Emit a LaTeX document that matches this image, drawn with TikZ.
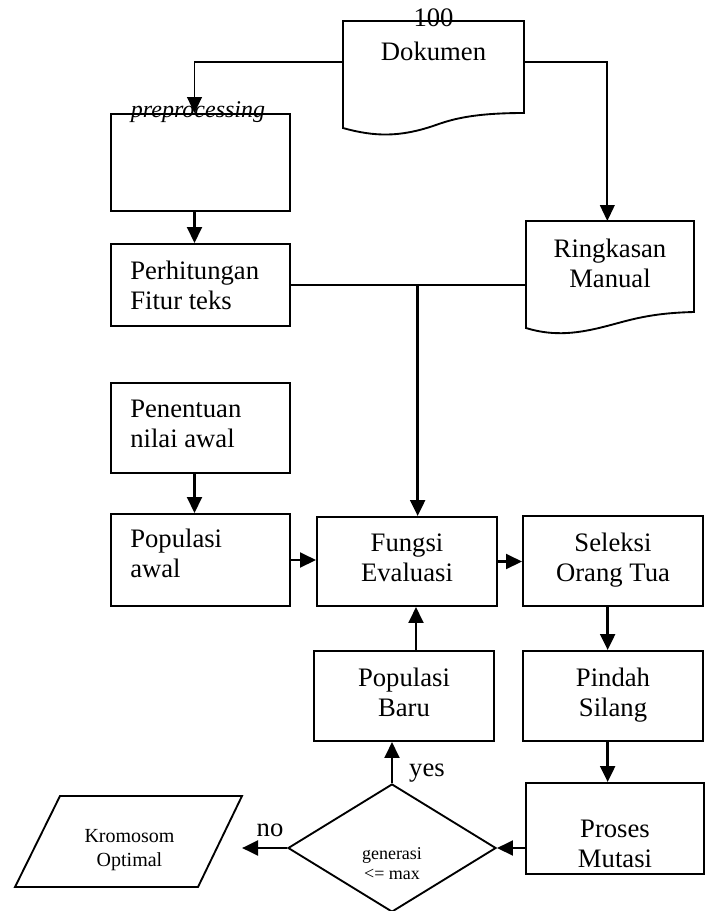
\documentclass[tikz,border=0pt]{standalone}
\usepackage{fontspec}
\setmainfont{Liberation Serif}
\usetikzlibrary{arrows.meta}
\usetikzlibrary{shapes.geometric}

\begin{document}
\begin{tikzpicture}[x=0.75pt,y=0.75pt,yscale=-1,xscale=1,
  box/.style={draw, line width=1.4pt, rectangle, inner sep=0pt, minimum width=135pt, minimum height=67.5pt},
  hidbox/.style={rectangle, inner sep=0pt, outer sep=0pt},
  txt/.style={font=\fontsize{20}{22.5}\selectfont, align=center, inner sep=0pt},
  txtl/.style={txt, align=left, anchor=west},
  smalltxt/.style={font=\fontsize{15}{18}\selectfont, align=center, inner sep=0pt},
  tinytxt/.style={font=\fontsize{13.5}{15}\selectfont, align=center, inner sep=0pt},
  thinln/.style={line width=1.4pt},
  arrthin/.style={line width=1.4pt, -{Triangle[length=12pt,width=11pt]}},
  arr/.style={line width=2.2pt, -{Triangle[length=12pt,width=11pt]}}
]
\useasboundingbox (0,0) rectangle (711,911);

%Shape: Document [Dokumen]
\node[hidbox, minimum width=135.75pt, minimum height=69pt] (dok) at (433.5,67) {};
\draw[thinln] (343,128) -- (dok.north west) -- (dok.north east) -- (dok.south east) .. controls (470,113) and (450,120) .. (433,126) .. controls (400,137) and (375,137) .. (343,128) -- cycle ;
% Text Node
\node[txt] (dokno) at (433.5,18) {100};
% Text Node
\node[txt] (doktxt) at (433.5,51) {Dokumen};

%Shape: Document [Ringkasan]
\node[hidbox, minimum width=126pt, minimum height=68.25pt] (rng) at (610,266.5) {};
\draw[thinln] (526,328) -- (rng.north west) -- (rng.north east) -- (rng.south east) .. controls (650,313) and (630,320) .. (607,326) .. controls (580,333) and (555,337) .. (526,328) -- cycle ;
% Text Node
\node[txt] (rngtxt) at (610,263.5) {Ringkasan\\Manual};

%Shape: Rectangle
\node[box, minimum width=134.25pt, minimum height=72.75pt] (pre) at (200.5,162.5) {};
\node[box, minimum width=134.25pt, minimum height=61.5pt] (per) at (200.5,285) {};
\node[box, minimum width=134.25pt] (pen) at (200.5,428) {};
\node[box, minimum width=134.25pt, minimum height=69pt] (popa) at (200.5,560) {};
\node[box, minimum height=66.75pt] (fun) at (407,561.5) {};
\node[box] (sel) at (613,561) {};
\node[box] (pin) at (613,696) {};
\node[box] (bar) at (404,696) {};
\node[box, minimum width=133.5pt, minimum height=68.25pt] (mut) at (615,828.5) {};

%Shape: Diamond
\node[diamond, draw, line width=1.4pt, inner sep=0pt, minimum width=156pt, minimum height=96pt] (dia) at (392,848) {};

%Shape: Parallelogram
\draw[thinln] (60,796) -- (242,796) -- (198,887) -- (15,887) -- cycle ;

% Text Node
\node[font=\fontsize{18}{20}\selectfont\itshape, inner sep=0pt] (pretxt) at (198,112) {preprocessing};
\node[txtl] (pertxt) at (130,285.5) {Perhitungan\\Fitur teks};
\node[txtl] (pentxt) at (130,423.5) {Penentuan\\nilai awal};
\node[txtl] (popatxt) at (130,553.5) {Populasi\\awal};
\node[txt] (funtxt) at (407,557.5) {Fungsi\\Evaluasi};
\node[txt] (seltxt) at (613,560.5) {Seleksi\\Orang Tua};
\node[txt] (pintxt) at (613,695.5) {Pindah\\Silang};
\node[txt] (bartxt) at (404,692) {Populasi\\Baru};
\node[txt] (muttxt) at (615,844) {Proses\\Mutasi};
\node[tinytxt] (diatxt) at (392,863.5) {generasi\\<= max};
\node[smalltxt] (krotxt) at (129.5,850.5) {Kromosom\\Optimal};
\node[txt] (yestxt) at (427,773) {yes};
\node[txt] (notxt) at (270,830.5) {no};

\coordinate (noend) at (242,848);

%Straight Lines
\draw[arrthin] (dok.west |- 0,62) -| ([xshift=-4.5pt]pre.north) ;
\draw[arrthin] (dok.east |- 0,62) -| ([xshift=-2pt]rng.north) ;
\draw[arr] ([xshift=-4.5pt]pre.south) -- ([xshift=-4.5pt]per.north) ;
\draw[thinln] (per.east) -- (per.east -| rng.west) ;
\draw[arr] ([xshift=8pt]fun.north |- per.east) -- ([xshift=8pt]fun.north) ;
\draw[arr] ([xshift=-4.5pt]pen.south) -- ([xshift=-4.5pt]popa.north) ;
\draw[arr] (popa.east) -- (popa.east -| fun.west) ;
\draw[arr] (fun.east) -- (fun.east -| sel.west) ;
\draw[arr] ([xshift=-4pt]sel.south) -- ([xshift=-4pt]pin.north) ;
\draw[arr] ([xshift=-4pt]pin.south) -- ([xshift=-4pt]pin.south |- mut.north) ;
\draw[arr] (mut.west |- dia.east) -- (dia.east) ;
\draw[arr] (dia.north) -- (dia.north |- bar.south) ;
\draw[arr] ([xshift=9pt]bar.north) -- ([xshift=9pt]bar.north |- fun.south) ;
\draw[arr] (dia.west) -- (noend) ;

\end{tikzpicture}
\end{document}
